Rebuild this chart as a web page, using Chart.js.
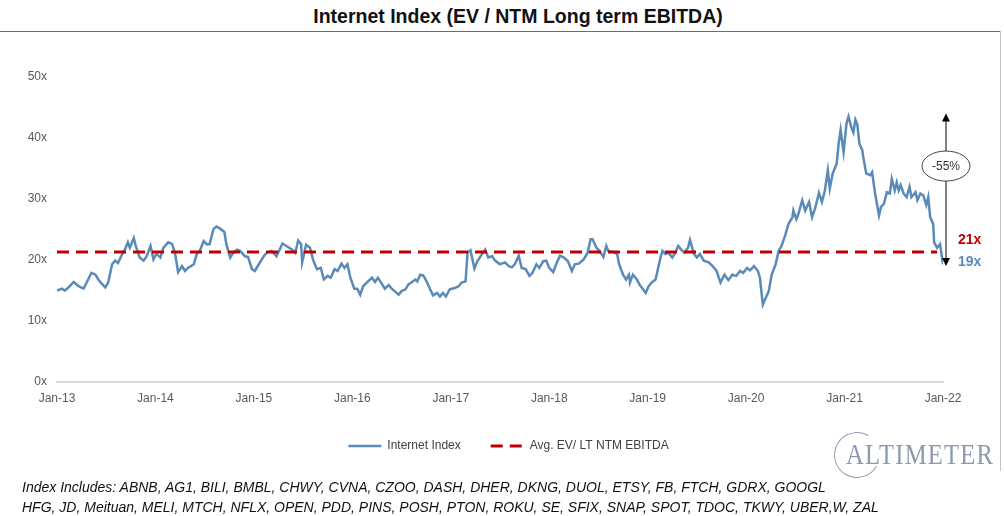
<!DOCTYPE html>
<html>
<head>
<meta charset="utf-8">
<title>Internet Index (EV / NTM Long term EBITDA)</title>
<script src="https://cdn.jsdelivr.net/npm/chart.js@4.4.0/dist/chart.umd.min.js"></script>
<style>
  html, body { margin: 0; padding: 0; background: #fff; }
  body { width: 1004px; height: 516px; position: relative; overflow: hidden; font-family: 'Liberation Sans', Arial, sans-serif; }
  #title { position: absolute; left: 0; top: 5px; width: 1036px; text-align: center; font-weight: bold; font-size: 19.5px; color: #111; }
  #titleRule { position: absolute; left: 0; top: 31px; width: 1001px; border-top: 1.5px solid #6e6e6e; }
  #sideRule { position: absolute; left: 1000px; top: 31px; height: 440px; border-left: 1px solid #c4c4c4; }
  #wrap { position: absolute; left: 0; top: 0; width: 1004px; height: 462px; }
  #footer { position: absolute; left: 22px; top: 477px; font-style: italic; font-size: 14px; line-height: 20px; color: #111; white-space: nowrap; }
  #logo { position: absolute; left: 846px; top: 437px; font-family: 'Liberation Serif', 'DejaVu Serif', serif; font-size: 30px; letter-spacing: 1.5px; color: #8a9bb0; transform: scaleX(0.82); transform-origin: left top; }
  #logoArc { position: absolute; left: 834px; top: 432px; width: 44px; height: 44px; border: 1px solid #8a9bb0; border-right-color: transparent; border-radius: 50%; transform: rotate(-15deg); }
</style>
</head>
<body>
<div id="title">Internet Index (EV / NTM Long term EBITDA)</div>
<div id="titleRule"></div>
<div id="sideRule"></div>
<div id="wrap"><canvas id="chart"></canvas></div>
<div id="logoArc"></div>
<div id="logo">ALTIMETER</div>
<div id="footer">Index Includes: ABNB, AG1, BILI, BMBL, CHWY, CVNA, CZOO, DASH, DHER, DKNG, DUOL, ETSY, FB, FTCH, GDRX, GOOGL<br>HFG, JD, Meituan, MELI, MTCH, NFLX, OPEN, PDD, PINS, POSH, PTON, ROKU, SE, SFIX, SNAP, SPOT, TDOC, TKWY, UBER,W, ZAL</div>
<script>
// dates as fractional years, values as EV / NTM LT EBITDA multiple
const dates = [
  2013.00, 2013.05, 2013.08, 2013.11, 2013.17, 2013.22, 2013.27, 2013.31, 2013.35, 2013.39,
  2013.42, 2013.45, 2013.49, 2013.52, 2013.56, 2013.59, 2013.62, 2013.66, 2013.69, 2013.72,
  2013.74, 2013.78, 2013.80, 2013.84, 2013.88, 2013.91, 2013.95, 2013.98, 2014.01, 2014.05,
  2014.08, 2014.13, 2014.17, 2014.20, 2014.23, 2014.27, 2014.30, 2014.33, 2014.39, 2014.42,
  2014.45, 2014.49, 2014.52, 2014.55, 2014.59, 2014.62, 2014.66, 2014.70, 2014.72, 2014.76,
  2014.79, 2014.83, 2014.86, 2014.91, 2014.94, 2014.98, 2015.01, 2015.05, 2015.10, 2015.13,
  2015.18, 2015.23, 2015.29, 2015.33, 2015.39, 2015.42, 2015.45, 2015.48, 2015.49, 2015.53,
  2015.57, 2015.60, 2015.64, 2015.68, 2015.71, 2015.75, 2015.78, 2015.82, 2015.85, 2015.89,
  2015.92, 2015.95, 2015.98, 2016.02, 2016.05, 2016.08, 2016.11, 2016.16, 2016.20, 2016.23,
  2016.26, 2016.30, 2016.33, 2016.37, 2016.40, 2016.43, 2016.47, 2016.50, 2016.54, 2016.57,
  2016.60, 2016.64, 2016.66, 2016.69, 2016.72, 2016.76, 2016.79, 2016.82, 2016.86, 2016.89,
  2016.92, 2016.95, 2016.99, 2017.04, 2017.08, 2017.11, 2017.15, 2017.17, 2017.20, 2017.24,
  2017.27, 2017.31, 2017.35, 2017.38, 2017.42, 2017.45, 2017.50, 2017.55, 2017.59, 2017.62,
  2017.65, 2017.69, 2017.72, 2017.76, 2017.80, 2017.83, 2017.87, 2017.90, 2017.94, 2017.97,
  2018.00, 2018.04, 2018.07, 2018.11, 2018.15, 2018.19, 2018.23, 2018.26, 2018.30, 2018.35,
  2018.39, 2018.42, 2018.44, 2018.48, 2018.51, 2018.53, 2018.55, 2018.58, 2018.60, 2018.65,
  2018.69, 2018.71, 2018.75, 2018.78, 2018.81, 2018.82, 2018.85, 2018.89, 2018.92, 2018.95,
  2018.98, 2019.01, 2019.04, 2019.08, 2019.10, 2019.13, 2019.15, 2019.18, 2019.21, 2019.25,
  2019.28, 2019.31, 2019.34, 2019.37, 2019.41, 2019.43, 2019.47, 2019.50, 2019.53, 2019.57,
  2019.62, 2019.66, 2019.70, 2019.74, 2019.78, 2019.82, 2019.86, 2019.90, 2019.94, 2019.97,
  2020.01, 2020.04, 2020.08, 2020.12, 2020.14, 2020.17, 2020.20, 2020.23, 2020.26, 2020.30,
  2020.33, 2020.36, 2020.40, 2020.43, 2020.47, 2020.48, 2020.51, 2020.53, 2020.57, 2020.60,
  2020.64, 2020.67, 2020.70, 2020.74, 2020.77, 2020.80, 2020.83, 2020.85, 2020.88, 2020.92,
  2020.94, 2020.96, 2020.99, 2021.02, 2021.04, 2021.07, 2021.09, 2021.11, 2021.13, 2021.15,
  2021.18, 2021.19, 2021.22, 2021.26, 2021.28, 2021.31, 2021.35, 2021.37, 2021.40, 2021.43,
  2021.46, 2021.48, 2021.51, 2021.53, 2021.55, 2021.57, 2021.60, 2021.63, 2021.66, 2021.68,
  2021.72, 2021.74, 2021.77, 2021.80, 2021.83, 2021.85, 2021.87, 2021.90, 2021.91, 2021.94,
  2021.97, 2021.99, 2022.00
];
const indexValues = [
  15.0, 15.3, 15.0, 15.4, 16.4, 15.7, 15.3, 16.6, 17.9, 17.6,
  16.8, 16.2, 15.5, 16.3, 19.3, 19.9, 19.5, 20.9, 21.7, 22.9,
  22.0, 23.6, 22.3, 20.4, 19.9, 20.6, 22.3, 20.1, 21.0, 20.4,
  22.0, 22.9, 22.6, 21.0, 18.0, 19.0, 18.2, 18.7, 19.3, 21.0,
  21.5, 23.1, 22.6, 22.6, 25.1, 25.5, 25.1, 24.6, 22.6, 20.4,
  21.2, 21.7, 21.5, 20.6, 20.5, 18.5, 18.2, 19.3, 20.6, 21.2,
  21.5, 20.6, 22.7, 22.3, 21.7, 21.2, 23.2, 22.6, 19.6, 22.5,
  22.0, 20.1, 18.5, 18.7, 16.8, 17.4, 17.1, 18.5, 18.2, 19.4,
  18.7, 19.3, 17.1, 15.3, 15.3, 14.3, 15.7, 16.5, 17.1, 16.4,
  17.1, 16.1, 15.3, 15.9, 15.3, 14.9, 14.3, 14.9, 15.2, 16.0,
  16.3, 16.8, 16.5, 17.6, 17.5, 16.3, 15.2, 14.2, 14.6, 14.0,
  14.6, 14.0, 15.2, 15.4, 15.7, 16.3, 16.5, 21.2, 21.6, 18.6,
  19.8, 20.8, 21.7, 20.4, 20.6, 19.9, 19.3, 19.6, 19.0, 18.8,
  19.3, 20.7, 18.7, 18.5, 17.4, 17.9, 19.3, 18.7, 19.8, 19.9,
  18.7, 18.0, 19.3, 20.7, 20.4, 19.8, 18.2, 19.3, 19.4, 20.1,
  21.2, 23.4, 23.4, 22.0, 21.5, 21.0, 20.5, 22.3, 21.5, 21.3,
  21.0, 19.3, 17.6, 16.8, 17.6, 16.3, 17.6, 16.8, 15.9, 15.3,
  14.6, 15.7, 16.3, 16.8, 18.2, 20.4, 21.5, 21.0, 21.2, 20.4,
  21.2, 22.3, 21.7, 21.2, 22.0, 23.3, 21.0, 20.4, 21.0, 19.9,
  19.6, 19.0, 18.2, 16.3, 17.6, 16.7, 17.6, 17.4, 18.2, 17.9,
  18.7, 18.3, 19.0, 18.2, 17.1, 12.7, 13.8, 14.9, 17.6, 19.3,
  21.5, 22.3, 24.2, 25.9, 27.0, 28.1, 26.7, 27.5, 29.8, 28.1,
  29.5, 27.0, 28.4, 31.0, 29.5, 31.4, 34.7, 31.7, 34.2, 35.8,
  39.1, 41.3, 37.7, 42.4, 43.5, 41.7, 40.9, 43.0, 42.2, 39.1,
  38.0, 36.9, 34.2, 33.9, 34.4, 30.9, 27.3, 28.7, 29.2, 31.1,
  30.9, 33.3, 31.4, 32.7, 31.4, 32.3, 30.9, 30.3, 32.0, 30.3,
  31.1, 29.8, 30.9, 30.6, 29.0, 30.3, 27.0, 25.9, 22.9, 22.0,
  22.6, 20.4, 19.3
];
const avgMultiple = 21.3;
const avgSpan = [2013.0, 2021.94];
const xTickYears = [2013, 2014, 2015, 2016, 2017, 2018, 2019, 2020, 2021, 2022];
const yTickValues = [0, 10, 20, 30, 40, 50];
const arrowFrom = 44;     // top of the drawdown arrow
const arrowTo = 19;       // bottom of the drawdown arrow
const changeAt = 35.4;    // where the bubble sits
const changeLabel = '-55%';
const avgLabel = '21x';
const lastLabel = '19x';

const BLUE = '#5a8ab7';
const RED = '#c00000';
const FONT = "'Liberation Sans', Arial, sans-serif";

const callout = {
  id: 'callout',
  afterLayout(chart) {
    // legend sits a bit right of the plot centre in the original
    chart.legend.left += 37;
    chart.legend.right += 37;
  },
  afterDatasetsDraw(chart) {
    const { ctx, chartArea, scales: { y } } = chart;
    const ax = chartArea.right + 3;
    const yTop = y.getPixelForValue(arrowFrom);
    const yBot = y.getPixelForValue(arrowTo);
    ctx.save();
    ctx.strokeStyle = '#000';
    ctx.fillStyle = '#000';
    ctx.lineWidth = 1;
    ctx.beginPath();
    ctx.moveTo(ax, yTop + 6);
    ctx.lineTo(ax, yBot - 6);
    ctx.stroke();
    ctx.beginPath();
    ctx.moveTo(ax, yTop); ctx.lineTo(ax - 4, yTop + 8); ctx.lineTo(ax + 4, yTop + 8);
    ctx.closePath(); ctx.fill();
    ctx.beginPath();
    ctx.moveTo(ax, yBot); ctx.lineTo(ax - 4, yBot - 8); ctx.lineTo(ax + 4, yBot - 8);
    ctx.closePath(); ctx.fill();

    const ey = y.getPixelForValue(changeAt);
    ctx.beginPath();
    ctx.ellipse(ax, ey, 24, 15, 0, 0, Math.PI * 2);
    ctx.fillStyle = '#fff';
    ctx.fill();
    ctx.strokeStyle = '#444';
    ctx.stroke();
    ctx.fillStyle = '#333';
    ctx.font = '12px ' + FONT;
    ctx.textAlign = 'center';
    ctx.textBaseline = 'middle';
    ctx.fillText(changeLabel, ax, ey + 1);

    ctx.textAlign = 'left';
    ctx.font = 'bold 14px ' + FONT;
    ctx.fillStyle = RED;
    ctx.fillText(avgLabel, chartArea.right + 15, y.getPixelForValue(avgMultiple) - 12);
    ctx.fillStyle = BLUE;
    ctx.fillText(lastLabel, chartArea.right + 15, y.getPixelForValue(indexValues[indexValues.length - 1]) - 2);
    ctx.restore();
  }
};

new Chart(document.getElementById('chart'), {
  type: 'line',
  data: {
    datasets: [
      {
        label: 'Avg. EV/ LT NTM EBITDA',
        data: avgSpan.map(d => ({ x: d, y: avgMultiple })),
        borderColor: RED,
        backgroundColor: RED,
        borderWidth: 3,
        borderDash: [12, 7],
        pointRadius: 0
      },
      {
        label: 'Internet Index',
        data: dates.map((d, i) => ({ x: d, y: indexValues[i] })),
        borderColor: BLUE,
        backgroundColor: BLUE,
        borderWidth: 2.5,
        pointRadius: 0,
        tension: 0
      }
    ]
  },
  options: {
    responsive: true,
    maintainAspectRatio: false,
    animation: false,
    devicePixelRatio: 1,
    layout: { padding: { top: 77, right: 61, left: 0, bottom: 0 } },
    plugins: {
      title: { display: false },
      tooltip: { enabled: false },
      legend: {
        position: 'bottom',
        reverse: true,
        labels: {
          usePointStyle: true,
          pointStyle: 'line',
          pointStyleWidth: 33,
          padding: 30,
          color: '#404040',
          font: { size: 12, family: FONT },
          // point style items lose the dataset dash, so copy it back
          generateLabels: chart => Chart.defaults.plugins.legend.labels.generateLabels(chart).map(item => {
            const ds = chart.data.datasets[item.datasetIndex];
            item.lineDash = ds.borderDash || [];
            item.lineWidth = ds.borderWidth;
            item.strokeStyle = ds.borderColor;
            return item;
          })
        }
      }
    },
    scales: {
      x: {
        type: 'linear',
        min: 2013,
        max: 2022,
        afterBuildTicks: s => { s.ticks = xTickYears.map(v => ({ value: v })); },
        afterFit: s => { s.height = 28; },
        grid: { display: false, drawTicks: false },
        border: { display: true, color: '#d9d9d9', width: 2 },
        ticks: {
          padding: 9,
          color: '#595959',
          font: { size: 12, family: FONT },
          maxRotation: 0,
          callback: v => 'Jan-' + String(v).slice(2)
        }
      },
      y: {
        min: 0,
        max: 50,
        afterBuildTicks: s => { s.ticks = yTickValues.map(v => ({ value: v })); },
        afterFit: s => { s.width = 57; },
        grid: { display: false, drawTicks: false },
        border: { display: false },
        ticks: {
          padding: 10,
          color: '#595959',
          font: { size: 12, family: FONT },
          callback: v => v + 'x'
        }
      }
    }
  },
  plugins: [callout]
});
</script>
</body>
</html>
